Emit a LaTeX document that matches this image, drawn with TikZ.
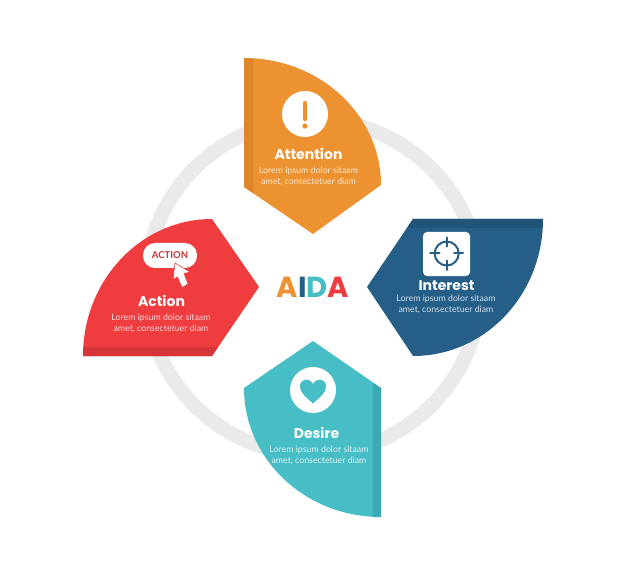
\documentclass[tikz,border=0pt]{standalone}
\usepackage{fontspec}
\usepackage{xcolor}
\setmainfont{Lato}
\newfontfamily\hdrfont{Poppins}
\definecolor{attnorange}{RGB}{236,146,48}
\definecolor{attndark}{RGB}{221,133,43}
\definecolor{intblue}{RGB}{37,94,135}
\definecolor{intdark}{RGB}{32,84,120}
\definecolor{actred}{RGB}{238,60,63}
\definecolor{actdark}{RGB}{214,52,56}
\definecolor{destea}{RGB}{71,189,197}
\definecolor{desdark}{RGB}{60,170,178}
\definecolor{ringgray}{RGB}{234,234,234}
\tikzset{
	hdr/.style={text=white,font=\hdrfont\fontsize{14}{16}\selectfont\bfseries,inner sep=0pt},
	txt/.style={text=white,font=\fontsize{8.8}{11}\selectfont,align=center,inner sep=0pt,opacity=.8},
	disc/.style={fill=white,draw=none},
}

\begin{document}
\begin{tikzpicture}[x=1pt,y=-1pt]
	\useasboundingbox[fill=white] (0,0) rectangle (626,561);
	\coordinate (O) at (313,287);

	\draw[ringgray,line width=14.5pt] (O) circle (167.5);

	% attention
	\coordinate (A1) at (244,58);
	\coordinate (A2) at (381,185);
	\coordinate (A3) at (313,234);
	\coordinate (A4) at (244,187);
	\fill[attnorange] (A1) .. controls (320,58) and (381,115) .. (A2) - - (A3) - - (A4) - - cycle;
	\fill[attndark] (A1) - - (253,59) - - (253,193) - - (A4) - - cycle;

	% interest
	\coordinate (B1) at (543,219);
	\coordinate (B2) at (413,356);
	\coordinate (B3) at (367,287);
	\coordinate (B4) at (413,219);
	\fill[intblue] (B1) .. controls (543,295) and (485,356) .. (B2) - - (B3) - - (B4) - - cycle;
	\fill[intdark] (B4) - - (B1) - - (542.5,228) - - (407,228) - - cycle;

	% desire
	\coordinate (C1) at (244,388);
	\coordinate (C2) at (381,517);
	\coordinate (C3) at (381,388);
	\coordinate (C4) at (313,341);
	\fill[destea] (C1) .. controls (244,459) and (305,517) .. (C2) - - (C3) - - (C4) - - cycle;
	\fill[desdark] (C3) - - (C2) - - (373,517) - - (373,383) - - cycle;

	% action
	\coordinate (D1) at (83,356);
	\coordinate (D2) at (212,219);
	\coordinate (D3) at (259,287);
	\coordinate (D4) at (212,356);
	\fill[actred] (D1) .. controls (83,280) and (141,219) .. (D2) - - (D3) - - (D4) - - cycle;
	\fill[actdark] (D1) - - (83.5,347) - - (218,347) - - (D4) - - cycle;

	% icons
	\fill[disc] (305,114) circle (23);
	\draw[attnorange,line width=4.5pt,line cap=round] (305,103) - - (305,119);
	\fill[attnorange] (305,126) circle (2.6);

	\fill[disc,rounded corners=4pt] (423,232) rectangle (470,276);
	\draw[intblue,line width=2pt] (446.7,253.5) circle (12);
	\draw[intblue,line width=2pt,line cap=round] (446.7,237.5) - - (446.7,246.5);
	\draw[intblue,line width=2pt,line cap=round] (446.7,260.5) - - (446.7,270);
	\draw[intblue,line width=2pt,line cap=round] (430,253.5) - - (439.5,253.5);
	\draw[intblue,line width=2pt,line cap=round] (454,253.5) - - (463,253.5);

	\fill[disc,rounded corners=12pt] (143,243) rectangle (197,268);
	\node (btn) at (170,255) [text=actred!85!black,font=\fontsize{9.5}{10}\selectfont\bfseries,inner sep=0pt] {ACTION};
	\fill[white,draw=actred,line width=.6pt] (175,263) - - (190,272) - - (184,273.5) - - (188,284) - - (182,287.5) - - (177.5,277) - - (173,279.5) - - cycle;

	\fill[disc] (313,390) circle (23);
	\fill[destea] (313,403.5) .. controls (306,397) and (300,393) .. (300,386.5) .. controls (300,378) and (310,377.5) .. (313,384) .. controls (316,377.5) and (326,378) .. (326,386.5) .. controls (326,393) and (320,397) .. (313,403.5) - - cycle;

	% labels
	\node (attn) at (308.5,154) [hdr] {Attention};
	\node (attntxt) at (308.5,176.5) [txt] {Lorem ipsum dolor sitaam\\amet, consectetuer diam};
	\node (intr) at (446.5,286) [hdr] {Interest};
	\node (intrtxt) at (446,304.5) [txt] {Lorem ipsum dolor sitaam\\amet, consectetuer diam};
	\node (actn) at (161.5,301) [hdr] {Action};
	\node (actntxt) at (161,323.5) [txt] {Lorem ipsum dolor sitaam\\amet, consectetuer diam};
	\node (desr) at (316.5,433) [hdr] {Desire};
	\node (desrtxt) at (319,455.5) [txt] {Lorem ipsum dolor sitaam\\amet, consectetuer diam};

	\node (aida) at (313,287) [font=\hdrfont\fontsize{29}{30}\selectfont\bfseries,inner sep=0pt] {\textcolor{attnorange}{A}\textcolor{intblue}{I}\textcolor{destea}{D}\textcolor{actred}{A}};
\end{tikzpicture}
\end{document}
